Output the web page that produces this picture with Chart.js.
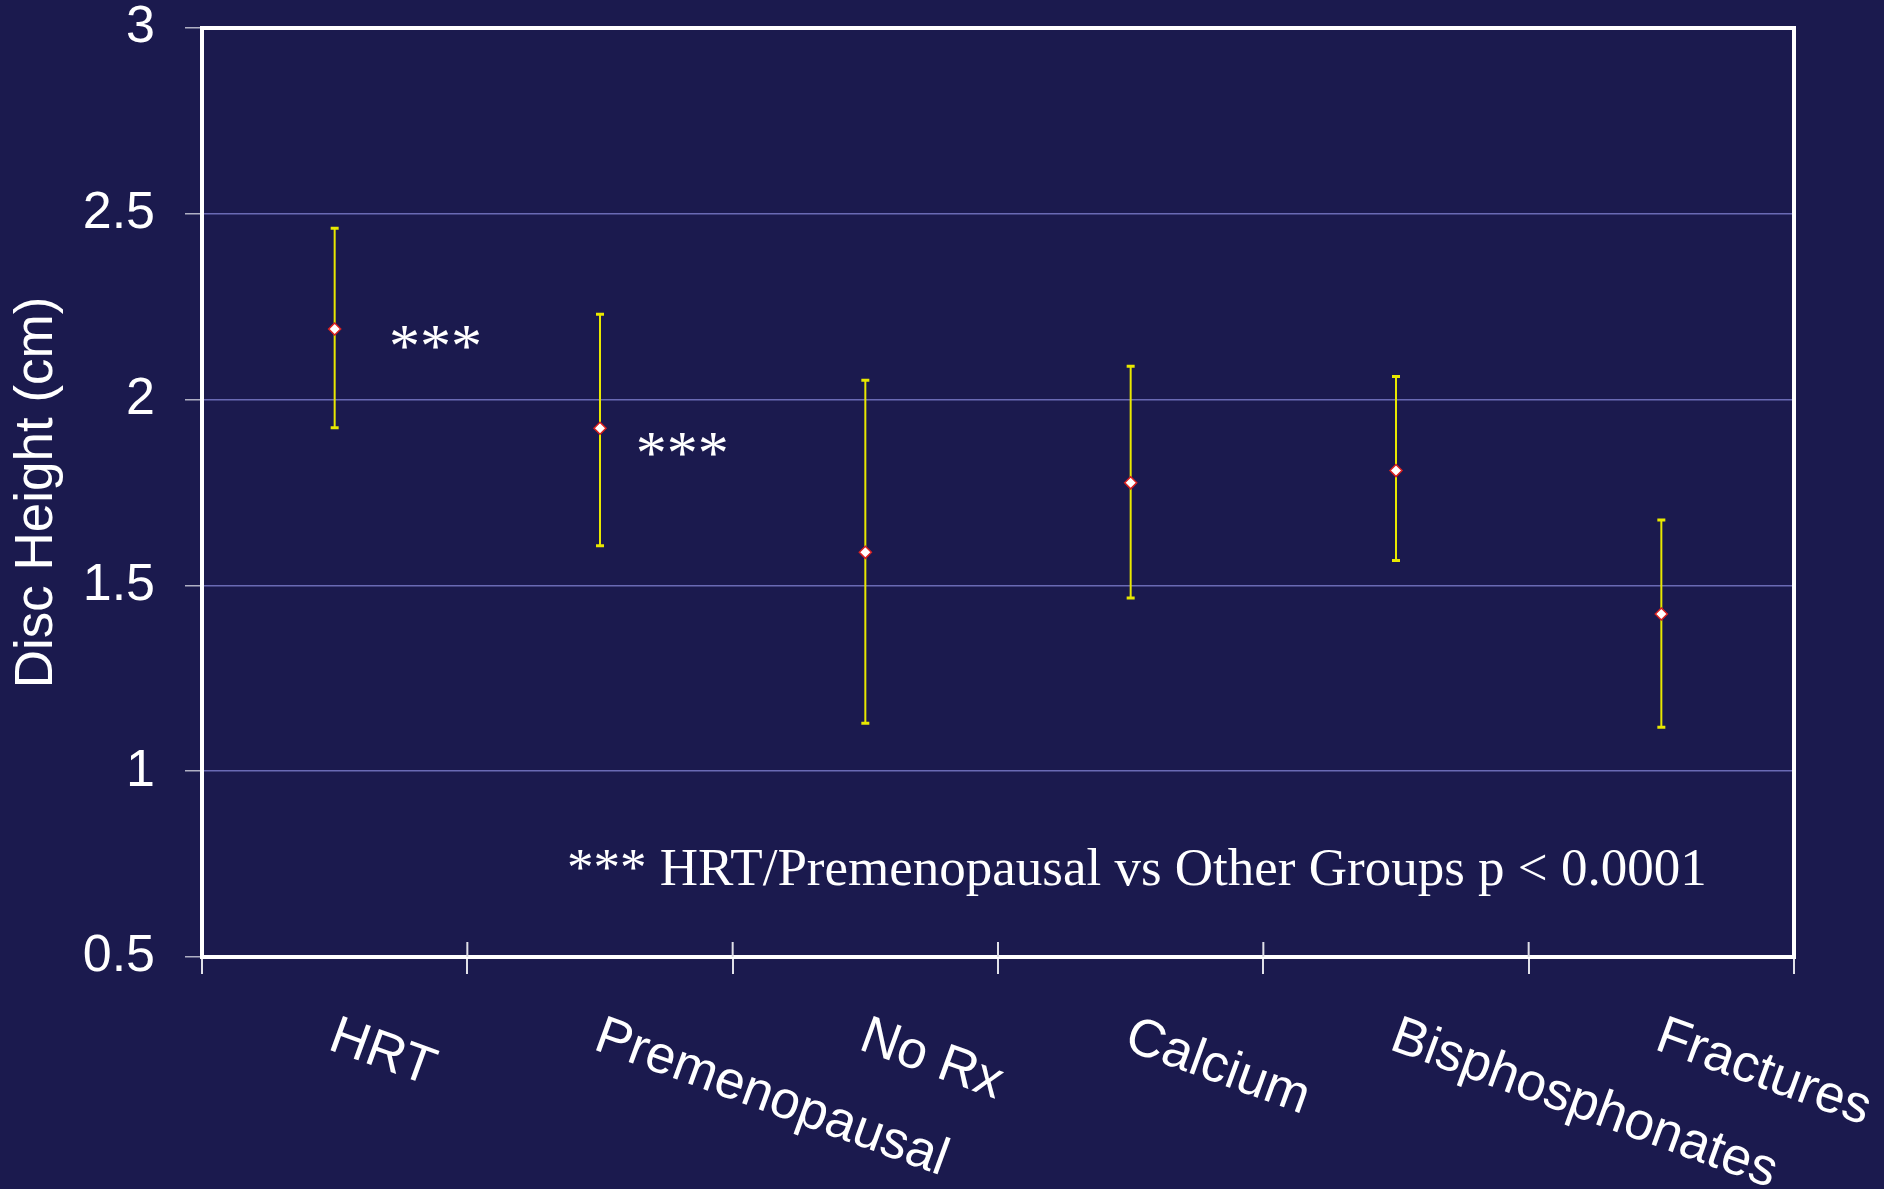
<!DOCTYPE html>
<html>
<head>
  <title>Disc Height by Group</title>
  <script src="https://cdn.jsdelivr.net/npm/chart.js"></script>
  <style>
    body { margin: 0; background: #1b1a4e; }
    #wrap { width: 1884px; height: 1189px; }
  </style>
</head>
<body>
  <div id="wrap"><canvas id="discChart" width="1884" height="1189"></canvas></div>

  <script>
    // groups along the x axis
    const groups = ['HRT', 'Premenopausal', 'No Rx', 'Calcium', 'Bisphosphonates', 'Fractures'];
    // mean disc height (cm) and the ends of each error bar
    const means = [2.19, 1.923, 1.589, 1.776, 1.809, 1.423];
    const lows  = [1.924, 1.607, 1.129, 1.466, 1.567, 1.118];
    const highs = [2.461, 2.230, 2.052, 2.090, 2.062, 1.676];
    // y axis tick values
    const yTicks = [0.5, 1, 1.5, 2, 2.5, 3];
    // significance marks next to the first two groups (x in group index units)
    const starTexts = ['***', '***'];
    const starX = [0.38, 1.31];
    const starY = [2.166, 1.878];
    // note inside the plot
    const noteText = '*** HRT/Premenopausal vs Other Groups p < 0.0001';
    const noteX = 0.876;
    const noteY = 0.694;

    const SANS = "'Liberation Sans', Arial, sans-serif";
    const SERIF = "'Liberation Serif', 'Times New Roman', serif";

    // error bars, frame, slanted group names and text notes
    const decor = {
      id: 'decor',
      beforeDatasetsDraw(chart) {
        const { ctx, scales: { x, y } } = chart;
        ctx.save();
        ctx.strokeStyle = '#e8e800';
        groups.forEach((g, i) => {
          const px = x.getPixelForValue(i);
          const top = y.getPixelForValue(highs[i]);
          const bot = y.getPixelForValue(lows[i]);
          ctx.lineWidth = 2;
          ctx.beginPath();
          ctx.moveTo(px, top);
          ctx.lineTo(px, bot);
          ctx.stroke();
          ctx.lineWidth = 3;
          ctx.beginPath();
          ctx.moveTo(px - 4, top); ctx.lineTo(px + 4, top);
          ctx.moveTo(px - 4, bot); ctx.lineTo(px + 4, bot);
          ctx.stroke();
        });
        ctx.restore();
      },
      afterDraw(chart) {
        const { ctx, chartArea: a, scales: { x, y } } = chart;
        ctx.save();

        // white frame round the plot
        ctx.strokeStyle = '#ffffff';
        ctx.lineWidth = 4;
        ctx.strokeRect(a.left, a.top, a.right - a.left, a.bottom - a.top);

        // tick stubs that poke up into the plot between groups
        ctx.strokeStyle = '#e0e0e8';
        ctx.lineWidth = 2;
        for (let i = 1; i < groups.length; i++) {
          const bx = x.getPixelForValue(i - 0.5);
          ctx.beginPath();
          ctx.moveTo(bx, a.bottom - 15);
          ctx.lineTo(bx, a.bottom);
          ctx.stroke();
        }

        // group names, slanted down to the right
        ctx.fillStyle = '#ffffff';
        ctx.font = '53px ' + SANS;
        ctx.textAlign = 'left';
        ctx.textBaseline = 'top';
        groups.forEach((g, i) => {
          ctx.save();
          ctx.translate(x.getPixelForValue(i) + 6, a.bottom + 53);
          ctx.rotate(20 * Math.PI / 180);
          ctx.fillText(g, 0, 0);
          ctx.restore();
        });

        // significance stars
        ctx.font = '62px ' + SERIF;
        ctx.textAlign = 'center';
        ctx.textBaseline = 'middle';
        starTexts.forEach((t, i) => {
          ctx.fillText(t, x.getPixelForValue(starX[i]), y.getPixelForValue(starY[i]) + 12);
        });

        // p-value note
        ctx.font = '53px ' + SERIF;
        ctx.textAlign = 'left';
        ctx.textBaseline = 'alphabetic';
        ctx.fillText(noteText, x.getPixelForValue(noteX), y.getPixelForValue(noteY));

        ctx.restore();
      }
    };

    const ctx = document.getElementById('discChart').getContext('2d');
    new Chart(ctx, {
      type: 'line',
      data: {
        labels: groups,
        datasets: [{
          label: 'Disc Height',
          data: means,
          showLine: false,
          pointStyle: 'rectRot',
          pointRadius: 6,
          pointBackgroundColor: '#ffffff',
          pointBorderColor: '#d82020',
          pointBorderWidth: 1.5
        }]
      },
      options: {
        responsive: false,
        animation: false,
        layout: { padding: { top: 28, right: 90, left: 0, bottom: 0 } },
        plugins: {
          legend: { display: false },
          tooltip: { enabled: false }
        },
        scales: {
          x: {
            type: 'category',
            offset: true,
            border: { display: false },
            grid: {
              offset: true,
              drawOnChartArea: false,
              tickLength: 17,
              tickColor: '#e0e0e8',
              lineWidth: 2
            },
            ticks: { display: false },
            afterFit: s => {
              s.height = 232;
              s.paddingLeft = 0;
              s.paddingRight = 0;
            }
          },
          y: {
            min: 0.5,
            max: 3,
            border: { display: false },
            afterBuildTicks: s => { s.ticks = yTicks.map(v => ({ value: v })); },
            grid: {
              color: c => (c.tick && (c.tick.value === 3 || c.tick.value === 0.5)) ? 'rgba(0,0,0,0)' : '#6a6ab4',
              tickColor: '#b0b0c4',
              tickLength: 17,
              lineWidth: 1.5
            },
            ticks: {
              color: '#ffffff',
              padding: 30,
              font: { family: SANS, size: 52, lineHeight: 1 },
              callback: v => String(v)
            },
            title: {
              display: true,
              text: 'Disc Height (cm)',
              color: '#ffffff',
              font: { family: SANS, size: 53 },
              padding: { top: 6, bottom: 0 }
            },
            afterFit: s => {
              s.width = 202;
              s.paddingTop = 0;
              s.paddingBottom = 0;
            }
          }
        }
      },
      plugins: [decor]
    });
  </script>
</body>
</html>
